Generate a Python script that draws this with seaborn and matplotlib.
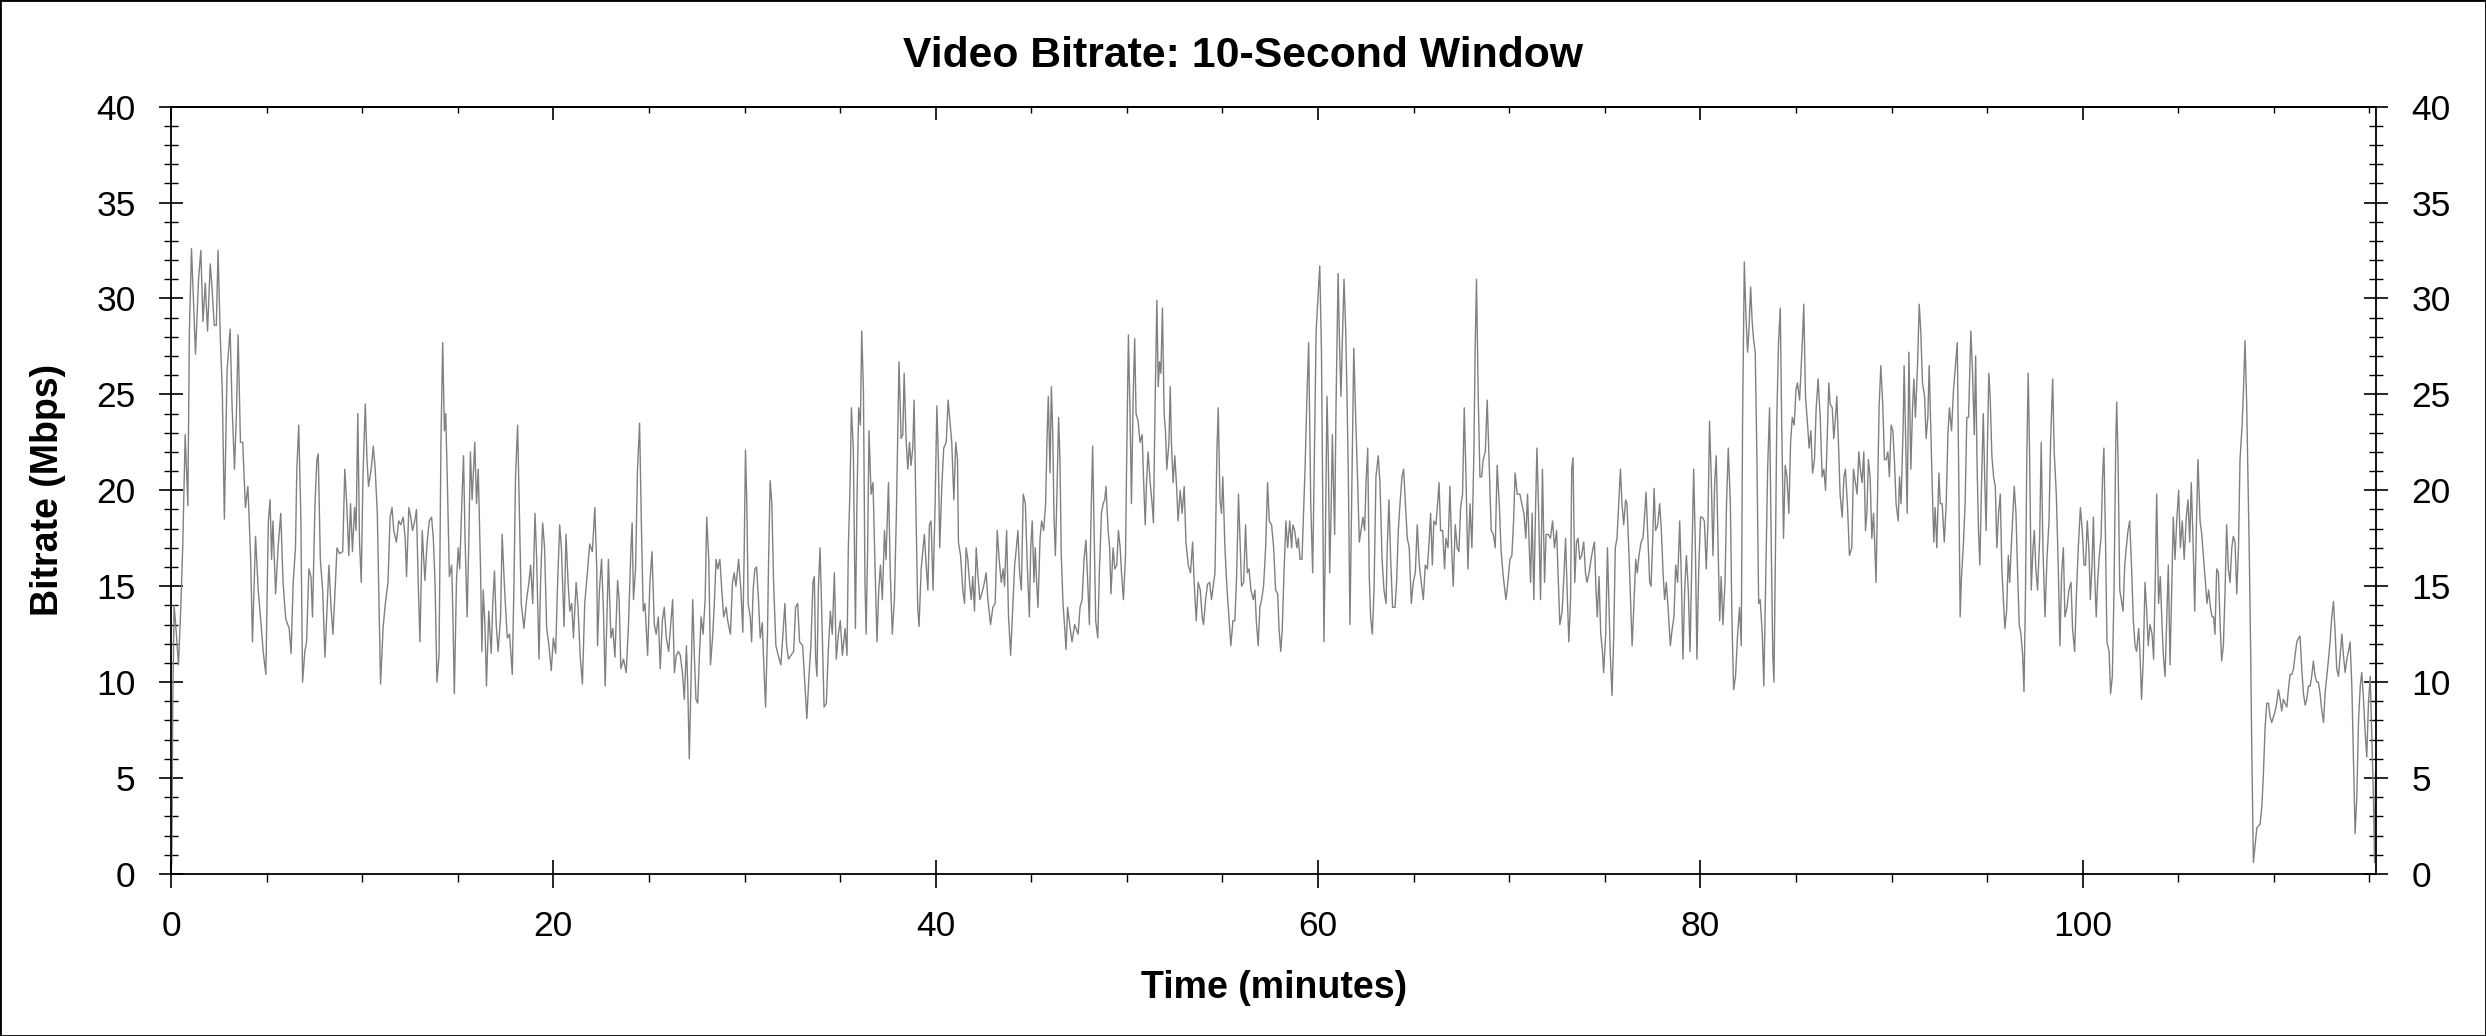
import matplotlib
matplotlib.use('Agg')
import matplotlib.pyplot as plt
import seaborn as sns
import pandas as pd
from matplotlib.ticker import MultipleLocator
from matplotlib.patches import Rectangle

# values, minutes / Mbps
time_min = [
    0.04, 0.09, 0.16, 0.25, 0.39, 0.51, 0.61, 0.74, 0.88, 0.96,
    1.07, 1.18, 1.28, 1.44, 1.56, 1.67, 1.79, 1.91, 2.05, 2.14,
    2.26, 2.37, 2.46, 2.58, 2.68, 2.79, 2.93, 3.09, 3.19, 3.32,
    3.42, 3.51, 3.63, 3.75, 3.89, 4.02, 4.16, 4.26, 4.42, 4.56,
    4.68, 4.82, 4.96, 5.09, 5.18, 5.26, 5.33, 5.47, 5.60, 5.74,
    5.86, 6.00, 6.18, 6.28, 6.39, 6.51, 6.58, 6.68, 6.79, 6.88,
    7.00, 7.09, 7.21, 7.32, 7.40, 7.53, 7.63, 7.70, 7.81, 7.93,
    8.05, 8.14, 8.26, 8.37, 8.47, 8.60, 8.68, 8.81, 8.98, 9.09,
    9.19, 9.30, 9.39, 9.49, 9.60, 9.68, 9.77, 9.86, 9.95, 10.04,
    10.16, 10.25, 10.33, 10.47, 10.58, 10.68, 10.79, 10.91, 10.96, 11.09,
    11.21, 11.35, 11.46, 11.56, 11.65, 11.79, 11.91, 12.02, 12.14, 12.25,
    12.32, 12.44, 12.54, 12.63, 12.75, 12.84, 12.93, 13.02, 13.14, 13.28,
    13.40, 13.51, 13.63, 13.72, 13.81, 13.91, 14.02, 14.12, 14.21, 14.30,
    14.37, 14.46, 14.56, 14.68,
    14.74, 14.82, 14.93, 15.02, 15.10, 15.21, 15.30, 15.38, 15.49, 15.58,
    15.66, 15.75, 15.89, 15.98, 16.07, 16.19, 16.26, 16.33, 16.42, 16.50,
    16.62, 16.75, 16.83, 16.92, 17.01, 17.11, 17.24, 17.32, 17.45, 17.59,
    17.71, 17.85, 17.94, 18.02, 18.13, 18.23, 18.32, 18.46, 18.60, 18.72,
    18.81, 18.92, 19.04, 19.12, 19.25, 19.33, 19.44, 19.54, 19.65, 19.77,
    19.89, 20.00, 20.12, 20.21, 20.33, 20.42, 20.56, 20.66, 20.77, 20.86,
    20.96, 21.05, 21.19, 21.29, 21.40, 21.52, 21.64, 21.78, 21.90, 22.04,
    22.17, 22.27, 22.31, 22.41, 22.52, 22.62, 22.71, 22.80, 22.88, 23.01,
    23.11, 23.22, 23.36, 23.44, 23.53, 23.67, 23.81, 23.93, 24.06, 24.12,
    24.19, 24.30, 24.40, 24.51, 24.61, 24.70, 24.79, 24.93, 25.05, 25.16,
    25.28, 25.38, 25.49, 25.59, 25.70, 25.80, 25.91, 26.03, 26.14, 26.24,
    26.33, 26.43, 26.54, 26.64, 26.75, 26.85, 26.96, 27.03, 27.11, 27.20,
    27.29, 27.38, 27.46, 27.55, 27.64, 27.73, 27.83, 27.94, 28.02, 28.13,
    28.22, 28.34, 28.43, 28.51, 28.60, 28.71, 28.81, 28.91, 29.04, 29.12,
    29.26,
    29.37, 29.46, 29.55, 29.69, 29.81, 29.91, 29.98, 30.05, 30.12, 30.19,
    30.30, 30.37, 30.45, 30.54, 30.63, 30.73, 30.82, 30.93, 30.99, 31.10,
    31.20, 31.26, 31.34, 31.43, 31.52, 31.64, 31.76, 31.90, 32.01, 32.11,
    32.20, 32.30, 32.43, 32.57, 32.67, 32.78, 32.88, 33.04, 33.16, 33.26,
    33.37, 33.47, 33.58, 33.65, 33.72, 33.79, 33.86, 33.95, 34.05, 34.16,
    34.28, 34.38, 34.49, 34.59, 34.70, 34.80, 34.91, 35.01, 35.12, 35.26,
    35.36, 35.43, 35.52, 35.59, 35.69, 35.80, 35.88, 35.97, 36.06, 36.13,
    36.22, 36.30, 36.36, 36.44, 36.51, 36.62, 36.72, 36.83, 36.93, 37.02,
    37.11, 37.21, 37.32, 37.40, 37.53, 37.63, 37.73, 37.84, 37.94, 38.01,
    38.08, 38.19, 38.28, 38.35, 38.45, 38.54, 38.63, 38.71, 38.80, 38.87,
    38.97, 39.06, 39.13, 39.24, 39.34, 39.41, 39.50, 39.59, 39.67, 39.76,
    39.86, 39.97, 40.06, 40.14, 40.21, 40.32, 40.42, 40.55, 40.65, 40.76,
    40.84, 40.95, 41.05, 41.14, 41.19, 41.30, 41.42, 41.51, 41.59, 41.68,
    41.77, 41.86, 41.94, 42.03, 42.12, 42.20, 42.31, 42.41, 42.55, 42.64,
    42.73, 42.87, 42.99, 43.11, 43.22, 43.32, 43.43, 43.53, 43.60, 43.71,
    43.81, 43.92,
    44.04, 44.13, 44.22, 44.30, 44.39, 44.48, 44.58, 44.69, 44.79, 44.90,
    44.97, 45.05, 45.14, 45.21, 45.28, 45.35, 45.46, 45.54, 45.65, 45.75,
    45.82, 45.89, 45.98, 46.05, 46.12, 46.19, 46.26, 46.33, 46.43, 46.50,
    46.57, 46.66, 46.75, 46.82, 46.90, 47.01, 47.13, 47.27, 47.45, 47.55,
    47.66, 47.76, 47.86, 47.97, 48.04, 48.11, 48.21, 48.28, 48.37, 48.48,
    48.56, 48.67, 48.76, 48.84, 48.91, 49.02, 49.10, 49.17, 49.28, 49.37,
    49.47, 49.56, 49.65, 49.72, 49.82, 49.93, 49.99, 50.08, 50.17, 50.24,
    50.33, 50.41, 50.48, 50.59, 50.69, 50.80, 50.87, 50.96, 51.03, 51.11,
    51.22, 51.32, 51.39, 51.48, 51.57, 51.64, 51.71, 51.78, 51.86, 51.95,
    52.02, 52.09, 52.20, 52.27, 52.33, 52.42, 52.51, 52.60, 52.68, 52.79,
    52.89, 53.00, 53.09, 53.21, 53.33, 53.44, 53.52, 53.63, 53.73, 53.84,
    53.94, 54.01, 54.12, 54.22, 54.33, 54.43, 54.54, 54.61, 54.71, 54.78,
    54.87, 54.95, 55.02, 55.13, 55.23, 55.34, 55.44, 55.55, 55.65, 55.74,
    55.84, 55.93, 56.00, 56.11, 56.21, 56.30, 56.39, 56.49, 56.61, 56.70,
    56.77, 56.87, 56.96, 57.05, 57.15, 57.26, 57.36, 57.45, 57.57, 57.68,
    57.78, 57.89, 57.96, 58.05, 58.13, 58.22, 58.32, 58.41, 58.52, 58.62,
    58.68, 58.78, 58.89, 58.97, 59.06, 59.16, 59.23, 59.32, 59.41, 59.51,
    59.62, 59.72, 59.79, 59.90, 59.98, 60.09, 60.18, 60.25, 60.31, 60.38,
    60.47, 60.54, 60.61, 60.68, 60.75, 60.82, 60.87, 60.94, 61.05, 61.13,
    61.20, 61.27, 61.36, 61.45, 61.52, 61.59, 61.67, 61.76, 61.87, 61.97,
    62.06, 62.16, 62.25, 62.35, 62.44, 62.51, 62.60, 62.68, 62.75, 62.84,
    62.93, 63.03, 63.15, 63.24, 63.35, 63.45, 63.56, 63.62, 63.71, 63.80,
    63.90, 64.03, 64.11, 64.20, 64.29, 64.39, 64.48, 64.57, 64.67, 64.77,
    64.88, 64.98, 65.09, 65.19, 65.30, 65.40, 65.51, 65.61, 65.72, 65.82,
    65.89, 65.98, 66.06, 66.17, 66.27, 66.33, 66.41, 66.52, 66.62, 66.69,
    66.80, 66.90, 66.99, 67.07, 67.18, 67.28, 67.37, 67.46, 67.56, 67.65,
    67.74, 67.84, 67.95, 68.05, 68.15, 68.22, 68.29, 68.38, 68.47, 68.56,
    68.64, 68.75, 68.85, 68.96, 69.06, 69.17, 69.27, 69.37, 69.48, 69.58,
    69.69, 69.83, 69.93, 70.04, 70.14, 70.23, 70.31, 70.42, 70.56, 70.66,
    70.77, 70.87, 70.96, 71.05, 71.12, 71.20, 71.29, 71.38, 71.45, 71.53,
    71.64, 71.74, 71.85, 71.93, 72.04, 72.16, 72.27, 72.37, 72.48, 72.55,
    72.65, 72.77, 72.86, 72.95, 73.03, 73.12, 73.21,
    73.27, 73.34, 73.43, 73.52, 73.60, 73.69, 73.79, 73.90, 73.99, 74.07,
    74.18, 74.28, 74.39, 74.46, 74.54, 74.61, 74.70, 74.79, 74.88, 74.94,
    75.05, 75.14, 75.22, 75.29, 75.38, 75.47, 75.55, 75.64, 75.73, 75.82,
    75.90, 75.99, 76.09, 76.16, 76.27, 76.36, 76.43, 76.51, 76.62, 76.70,
    76.79, 76.90, 77.00, 77.09, 77.16, 77.24, 77.35, 77.42, 77.51, 77.58,
    77.66, 77.77, 77.87, 77.96, 78.05, 78.13, 78.22, 78.31, 78.43, 78.53,
    78.62, 78.71, 78.81, 78.92, 79.00, 79.09, 79.18, 79.27, 79.37, 79.46,
    79.56, 79.65, 79.74, 79.82, 79.91, 80.01, 80.10, 80.21, 80.31, 80.40,
    80.48, 80.57, 80.66, 80.75, 80.83, 80.92, 81.01, 81.09, 81.18, 81.29,
    81.37, 81.46, 81.57, 81.65, 81.74, 81.84, 81.95, 82.05, 82.14, 82.21,
    82.30, 82.38, 82.47, 82.54, 82.63, 82.71, 82.78, 82.87, 82.96, 83.05,
    83.13, 83.24, 83.32, 83.43, 83.52, 83.62, 83.71, 83.79, 83.85, 83.93,
    84.00, 84.09, 84.18, 84.25, 84.35, 84.44, 84.53, 84.63, 84.72, 84.81,
    84.91, 85.00, 85.08, 85.19, 85.26, 85.35, 85.41, 85.50, 85.61, 85.69,
    85.78, 85.87, 85.97, 86.06, 86.16, 86.27, 86.37, 86.46, 86.55, 86.63,
    86.72, 86.79, 86.90, 86.98, 87.07, 87.14, 87.24, 87.31, 87.42, 87.51,
    87.59, 87.70, 87.80,
    87.92, 88.01, 88.11, 88.20, 88.29, 88.37, 88.46, 88.55, 88.64, 88.71,
    88.79, 88.88, 88.97, 89.06, 89.13, 89.19, 89.26, 89.35, 89.44, 89.54,
    89.63, 89.72, 89.81, 89.89, 89.98, 90.07, 90.15, 90.24, 90.35, 90.42,
    90.50, 90.61, 90.66, 90.75, 90.82, 90.91, 91.01, 91.10, 91.17, 91.25,
    91.36, 91.45, 91.53, 91.62, 91.73, 91.81, 91.90, 91.97, 92.06, 92.13,
    92.21, 92.28, 92.37, 92.48, 92.55, 92.65, 92.76, 92.86, 92.95, 93.03,
    93.14, 93.24, 93.33, 93.44, 93.52, 93.59, 93.66, 93.75, 93.85, 93.94,
    94.03, 94.15, 94.24, 94.33, 94.40, 94.47, 94.55, 94.62, 94.71, 94.80,
    94.88, 94.95, 95.02, 95.09, 95.16, 95.25, 95.34, 95.43, 95.51, 95.60,
    95.69, 95.77, 95.86, 95.93, 96.02, 96.11, 96.18, 96.26, 96.35, 96.42,
    96.51, 96.59, 96.68, 96.77, 96.86, 96.93, 97.01, 97.08, 97.15, 97.22,
    97.31, 97.40, 97.47, 97.55, 97.64, 97.75, 97.83, 97.92, 98.03, 98.13,
    98.24, 98.32, 98.43, 98.51, 98.62, 98.72, 98.81, 98.90, 98.99, 99.07,
    99.18, 99.28, 99.39, 99.47, 99.58, 99.68, 99.77, 99.88, 99.98, 100.07,
    100.15, 100.24, 100.33, 100.40, 100.49, 100.56, 100.64, 100.71, 100.78, 100.87,
    100.96, 101.04, 101.11, 101.20, 101.27, 101.38, 101.46, 101.55, 101.64, 101.73,
    101.78, 101.85, 101.94, 102.02, 102.11, 102.20, 102.28, 102.37, 102.46,
    102.56, 102.65, 102.74, 102.82, 102.93, 103.00, 103.08, 103.17, 103.26, 103.35,
    103.43, 103.52, 103.63, 103.71, 103.80, 103.87, 103.97, 104.06, 104.15, 104.22,
    104.31, 104.39, 104.48, 104.57, 104.66, 104.74, 104.83, 104.92, 105.02, 105.11,
    105.21, 105.31, 105.42, 105.51, 105.60, 105.68, 105.77, 105.86, 105.95, 106.03,
    106.14, 106.23, 106.31, 106.40, 106.50, 106.59, 106.68, 106.77, 106.85, 106.92,
    107.01, 107.10, 107.19, 107.27, 107.36, 107.45, 107.53, 107.62, 107.71, 107.80,
    107.88, 107.97, 108.06, 108.15, 108.23, 108.34, 108.41, 108.49, 108.58, 108.67,
    108.72, 108.79, 108.84, 108.93, 109.02, 109.11, 109.19, 109.28, 109.37, 109.45,
    109.54, 109.63, 109.72, 109.80, 109.89, 109.98, 110.07, 110.15, 110.24, 110.33,
    110.41, 110.50, 110.59, 110.68, 110.76, 110.85, 110.94, 111.03, 111.11, 111.20,
    111.29, 111.37, 111.46, 111.55, 111.64, 111.72, 111.81, 111.90, 111.98, 112.07,
    112.16, 112.25, 112.33, 112.42, 112.51, 112.60, 112.68, 112.77, 112.86, 112.94,
    113.03, 113.12, 113.21, 113.29, 113.38, 113.47, 113.56, 113.64, 113.73, 113.82,
    113.90, 113.99, 114.08, 114.17, 114.25, 114.34, 114.43, 114.52, 114.60, 114.69,
    114.78, 114.86, 114.95, 115.04, 115.13, 115.21, 115.27, 115.32,
]

bitrate_mbps = [
    0.5, 8.9, 14.0, 12.9, 10.9, 13.9, 17.0, 22.9, 19.2, 28.3,
    32.6, 29.7, 27.1, 31.0, 32.5, 28.8, 30.8, 28.3, 31.8, 30.6,
    28.6, 28.6, 32.5, 27.9, 25.2, 18.5, 26.2, 28.4, 24.5, 21.1,
    24.0, 28.1, 22.5, 22.5, 19.1, 20.2, 16.6, 12.1, 17.6, 14.8,
    13.4, 11.6, 10.4, 18.4, 19.5, 16.4, 18.4, 14.6, 17.0, 18.8,
    15.2, 13.3, 12.8, 11.5, 15.2, 17.0, 21.1, 23.4, 18.6, 10.0,
    11.6, 12.1, 15.9, 15.5, 13.4, 19.3, 21.6, 21.9, 16.4, 14.8,
    11.3, 13.4, 16.1, 13.9, 12.5, 15.2, 17.0, 16.7, 16.8, 21.1,
    19.3, 16.6, 19.3, 16.8, 19.1, 17.9, 24.0, 17.3, 15.2, 20.7,
    24.5, 21.6, 20.2, 21.1, 22.3, 21.1, 18.8, 12.5, 9.9, 12.8,
    14.1, 15.2, 18.6, 19.1, 17.9, 17.3, 18.4, 18.2, 18.6, 17.5,
    15.5, 19.1, 18.6, 17.9, 18.4, 19.0, 15.2, 12.1, 17.9, 15.3,
    17.3, 18.4, 18.6, 17.5, 15.2, 10.0, 11.4, 22.5, 27.7, 23.1,
    24.0, 20.2, 15.5, 16.1,
    13.7, 9.4, 15.2, 17.0, 15.9, 19.3, 21.8, 17.5, 13.4, 17.5,
    22.0, 19.5, 22.5, 19.3, 21.1, 15.9, 11.6, 14.8, 13.0, 9.8,
    13.7, 11.5, 14.1, 15.8, 13.0, 11.6, 13.4, 17.7, 14.8, 12.3,
    12.5, 10.4, 15.2, 20.7, 23.4, 18.4, 14.1, 12.8, 14.3, 15.2,
    16.1, 14.1, 18.8, 16.6, 11.2, 15.2, 18.3, 17.0, 12.8, 11.9,
    10.6, 12.3, 11.5, 14.8, 18.2, 17.0, 12.9, 17.7, 15.2, 13.7,
    14.1, 12.3, 15.2, 13.9, 11.4, 9.9, 14.1, 15.7, 17.2, 16.8,
    19.1, 15.9, 11.9, 14.8, 16.4, 13.7, 9.8, 13.4, 16.4, 12.3,
    12.8, 11.3, 15.3, 14.3, 10.7, 11.2, 10.5, 13.0, 17.0, 18.3,
    14.3, 15.9, 21.1, 23.5, 17.9, 13.7, 14.1, 11.4, 15.2, 16.8,
    13.0, 12.5, 13.4, 10.7, 13.2, 13.9, 12.3, 11.6, 13.0, 14.3,
    10.5, 11.4, 11.6, 11.4, 10.5, 9.1, 11.9, 9.8, 6.0, 10.0,
    14.3, 11.2, 9.1, 8.9, 11.4, 13.4, 12.5, 14.3, 18.6, 16.4,
    10.9, 12.5, 14.3, 16.4, 15.9, 16.4, 14.8, 13.4, 13.9, 13.2,
    12.5,
    15.2, 15.7, 15.0, 16.4, 14.8, 12.6, 16.6, 22.1, 19.3, 14.1,
    13.4, 12.1, 14.8, 15.9, 16.0, 14.3, 12.3, 13.1, 11.4, 8.7,
    12.5, 16.4, 20.5, 19.3, 15.2, 11.9, 11.4, 10.9, 12.5, 14.1,
    11.9, 11.2, 11.4, 11.6, 13.9, 14.1, 12.1, 11.9, 9.8, 8.1,
    10.3, 11.9, 15.2, 15.5, 11.2, 10.3, 14.8, 17.0, 13.2, 8.7,
    8.9, 11.6, 13.7, 12.5, 15.7, 11.2, 12.5, 13.2, 11.4, 12.8,
    11.4, 17.0, 20.2, 24.3, 22.2, 12.8, 19.3, 24.3, 23.4, 28.3,
    25.2, 15.2, 12.5, 17.0, 23.1, 19.8, 20.4, 15.9, 12.1, 14.8,
    16.1, 14.3, 17.9, 16.4, 20.4, 15.5, 12.5, 14.3, 18.6, 22.5,
    26.7, 22.7, 22.9, 26.1, 22.7, 21.1, 22.5, 21.3, 22.2, 24.7,
    18.8, 13.9, 12.9, 15.9, 17.0, 17.7, 16.1, 14.8, 18.2, 18.4,
    14.8, 19.3, 24.4, 21.6, 17.0, 20.2, 22.2, 22.5, 24.7, 23.4,
    22.5, 19.5, 22.5, 21.6, 17.3, 16.6, 14.8, 14.1, 17.0, 16.4,
    15.2, 14.3, 15.5, 13.7, 17.0, 15.7, 14.3, 14.6, 15.2, 15.7,
    14.3, 13.0, 13.9, 14.1, 17.9, 16.4, 15.2, 15.9, 15.0, 17.9,
    13.4, 11.4,
    14.1, 16.1, 17.0, 17.9, 15.7, 14.8, 19.8, 19.3, 16.1, 13.4,
    17.0, 18.4, 15.2, 17.0, 15.2, 13.9, 17.5, 18.4, 17.9, 19.3,
    22.5, 24.9, 20.9, 25.4, 23.1, 18.6, 16.6, 19.3, 23.8, 21.6,
    16.6, 14.1, 12.8, 11.7, 13.9, 13.0, 12.1, 13.0, 12.5, 13.9,
    14.3, 16.4, 17.4, 14.8, 13.0, 17.9, 22.3, 18.2, 13.2, 12.3,
    15.7, 18.8, 19.3, 19.5, 20.2, 17.9, 17.0, 14.6, 17.0, 15.9,
    16.1, 17.9, 17.0, 15.7, 14.3, 16.6, 21.6, 28.1, 23.8, 19.3,
    24.9, 27.9, 24.0, 23.6, 22.5, 22.9, 20.7, 18.2, 20.4, 22.0,
    20.4, 19.3, 18.3, 24.7, 29.9, 25.4, 26.7, 26.1, 29.5, 24.0,
    23.1, 21.1, 22.5, 25.4, 22.5, 20.4, 21.8, 20.2, 18.4, 20.0,
    18.8, 20.2, 17.3, 16.1, 15.7, 17.3, 15.2, 13.2, 15.2, 14.8,
    13.4, 13.0, 14.3, 15.1, 15.2, 14.3, 15.2, 15.7, 22.0, 24.3,
    19.5, 18.8, 20.7, 17.0, 15.0, 13.4, 11.9, 13.2, 13.2, 15.5,
    19.8, 17.0, 15.0, 15.2, 18.2, 15.7, 15.9, 14.8, 14.3, 14.8,
    13.2, 11.9, 13.9, 14.3, 15.0, 17.0, 20.4, 18.4, 18.2, 17.0,
    14.8, 14.6, 12.8, 11.6, 12.8, 15.7, 18.4, 17.0, 18.4, 17.0,
    18.2, 17.9, 17.0, 17.5, 16.4, 16.4, 18.4, 21.1, 24.5, 27.7,
    19.3, 15.7, 20.4, 28.3, 29.7, 31.7, 27.2, 19.3, 12.1, 17.0,
    24.9, 21.6, 15.7, 18.8, 22.9, 19.8, 17.7, 24.3, 31.3, 27.4,
    24.9, 27.7, 31.0, 28.3, 24.7, 20.4, 13.0, 19.3, 27.4, 23.8,
    20.9, 17.3, 17.9, 18.6, 17.9, 20.4, 22.2, 15.5, 13.4, 12.5,
    14.8, 20.7, 21.8, 20.4, 16.4, 14.8, 14.1, 17.0, 19.5, 16.4,
    13.9, 13.9, 15.2, 17.9, 19.3, 20.7, 21.1, 19.3, 17.5, 17.0,
    14.1, 15.2, 15.7, 18.2, 16.1, 15.2, 14.3, 16.1, 15.9, 17.5,
    18.8, 16.1, 18.4, 18.2, 19.5, 20.4, 17.9, 17.9, 15.9, 17.5,
    17.0, 20.2, 17.0, 15.0, 18.2, 17.0, 16.8, 19.1, 19.8, 24.3,
    20.7, 15.9, 19.3, 17.0, 21.8, 27.4, 31.0, 24.9, 20.7, 20.7,
    21.6, 22.0, 24.7, 21.1, 17.9, 17.7, 17.0, 21.3, 19.3, 16.8,
    15.5, 14.3, 15.2, 16.4, 16.6, 18.4, 20.9, 19.8, 19.8, 19.3,
    18.8, 17.5, 19.8, 17.0, 15.2, 18.8, 14.3, 19.1, 22.2, 19.3,
    14.3, 21.1, 15.2, 17.7, 17.7, 17.5, 18.4, 17.0, 17.9, 15.9,
    13.0, 13.7, 15.5, 17.5, 14.8, 12.1, 14.3,
    21.1, 21.7, 15.2, 17.3, 17.5, 16.4, 16.6, 17.3, 15.7, 15.2,
    15.7, 16.4, 17.0, 17.3, 14.8, 13.4, 15.5, 12.5, 11.6, 10.5,
    12.5, 17.0, 13.9, 11.4, 9.3, 12.5, 17.0, 17.5, 19.3, 21.1,
    19.3, 18.2, 19.5, 19.3, 16.6, 13.9, 11.9, 13.7, 16.4, 15.7,
    16.6, 17.3, 17.5, 18.8, 19.9, 17.9, 15.2, 15.0, 17.5, 20.1,
    17.9, 18.2, 19.3, 17.9, 15.7, 14.3, 15.2, 13.9, 11.9, 12.8,
    13.4, 16.1, 15.2, 18.4, 15.7, 11.2, 14.8, 16.6, 14.8, 11.6,
    16.6, 21.1, 17.0, 11.2, 15.7, 18.6, 18.6, 18.4, 15.9, 18.4,
    23.6, 20.7, 16.6, 20.4, 21.8, 17.5, 13.2, 15.5, 13.0, 15.2,
    19.3, 22.2, 19.3, 13.4, 9.6, 10.3, 12.5, 13.9, 11.9, 23.8,
    31.9, 29.2, 27.2, 28.3, 30.6, 28.8, 27.9, 27.2, 21.6, 14.1,
    14.3, 12.5, 9.8, 15.9, 21.1, 24.3, 17.0, 11.4, 10.0, 17.0,
    23.8, 27.7, 29.5, 23.8, 17.5, 21.3, 20.7, 18.8, 22.5, 23.8,
    23.4, 25.2, 25.6, 24.7, 26.1, 28.1, 29.7, 24.9, 23.4, 22.2,
    23.1, 20.9, 21.6, 24.3, 25.8, 23.8, 20.7, 21.1, 20.0, 22.5,
    25.6, 24.5, 24.3, 22.7, 23.8, 24.9, 22.0, 19.8, 18.6, 20.7,
    21.1, 19.1, 16.6,
    17.0, 21.1, 20.4, 19.8, 22.0, 21.1, 20.4, 22.0, 17.9, 18.8,
    21.6, 20.7, 17.5, 18.8, 17.0, 15.2, 19.3, 24.3, 26.5, 24.5,
    21.6, 21.6, 22.0, 20.7, 23.4, 23.1, 21.6, 19.3, 18.4, 20.7,
    19.3, 23.4, 26.5, 22.2, 18.8, 27.2, 21.1, 24.3, 25.8, 23.8,
    26.5, 29.7, 28.3, 25.6, 24.9, 22.7, 23.8, 26.5, 22.9, 20.2,
    17.3, 19.1, 17.0, 20.9, 19.3, 19.3, 17.3, 19.3, 22.9, 24.3,
    23.1, 25.2, 26.3, 27.7, 20.4, 13.4, 15.5, 17.0, 19.3, 23.8,
    23.8, 28.3, 26.1, 22.9, 27.0, 21.6, 17.9, 16.1, 20.4, 24.0,
    20.4, 17.9, 22.5, 26.1, 24.9, 21.8, 20.7, 20.2, 17.0, 18.8,
    19.8, 15.9, 14.1, 12.8, 13.7, 16.6, 15.2, 17.0, 18.8, 20.2,
    18.8, 15.9, 13.0, 12.5, 11.4, 9.5, 14.8, 22.0, 26.1, 22.0,
    14.8, 17.0, 17.9, 15.9, 14.8, 17.5, 22.5, 17.0, 13.4, 16.4,
    18.4, 22.5, 25.8, 22.0, 19.8, 16.1, 11.9, 15.7, 17.0, 13.4,
    13.9, 14.8, 15.2, 12.8, 11.6, 14.8, 17.0, 19.1, 17.9, 16.1,
    16.1, 18.4, 16.8, 14.3, 16.1, 18.6, 15.2, 13.4, 15.2, 16.6,
    17.5, 20.7, 22.2, 17.0, 12.1, 11.6, 9.4, 10.3, 14.8, 22.5,
    24.6, 21.6, 14.8, 14.3, 13.7, 16.1, 17.0, 17.9, 18.4,
    15.9, 13.2, 11.9, 11.6, 12.8, 11.4, 9.1, 11.2, 15.2, 13.7,
    11.9, 13.0, 12.5, 11.2, 15.5, 19.8, 14.1, 15.5, 13.0, 11.4,
    10.3, 13.0, 16.1, 10.9, 15.0, 18.6, 16.4, 18.4, 20.0, 17.0,
    18.4, 16.4, 18.6, 19.5, 17.3, 20.4, 17.5, 13.7, 18.2, 21.6,
    18.4, 17.7, 16.6, 15.5, 14.1, 14.8, 13.9, 13.4, 13.4, 12.5,
    15.9, 15.7, 13.0, 11.1, 11.9, 14.8, 18.2, 15.9, 15.2, 17.0,
    17.6, 17.3, 14.6, 17.0, 21.6, 23.4, 25.2, 27.8, 24.5, 19.3,
    16.4, 11.4, 6.9, 0.6, 1.5, 2.4, 2.5, 2.6, 3.5, 5.1,
    7.6, 8.9, 8.9, 8.2, 7.9, 8.2, 8.5, 8.9, 9.6, 9.1,
    8.5, 9.1, 8.9, 8.7, 9.6, 10.4, 10.4, 10.7, 11.4, 12.1,
    12.3, 12.4, 10.7, 9.4, 8.8, 9.1, 9.8, 9.8, 10.3, 11.1,
    10.3, 10.0, 10.0, 9.4, 8.5, 7.9, 9.4, 10.3, 11.2, 12.1,
    13.4, 14.2, 12.5, 10.7, 10.3, 11.4, 12.5, 11.4, 10.5, 11.2,
    11.6, 12.1, 9.8, 5.8, 2.1, 4.0, 8.0, 9.8, 10.5, 9.1,
    7.3, 6.1, 8.9, 10.3, 6.9, 4.0, 0.6, 5.3,
]

x_ticks_major = 20
x_ticks_minor = 5
y_ticks_major = 5
y_ticks_minor = 1

sns.set_theme(style='ticks', rc={'axes.edgecolor': 'black', 'xtick.color': 'black',
                                 'ytick.color': 'black', 'text.color': 'black',
                                 'axes.labelcolor': 'black'})
plt.rcParams['font.family'] = ['Liberation Sans', 'DejaVu Sans']

df = pd.DataFrame({'Time (minutes)': time_min, 'Bitrate (Mbps)': bitrate_mbps})

fig = plt.figure(figsize=(24.86, 10.36), dpi=100)
ax = fig.add_axes([0.0688, 0.1564, 0.8870, 0.7407])

sns.lineplot(data=df, x='Time (minutes)', y='Bitrate (Mbps)', ax=ax,
             color='#808080', linewidth=1.0, estimator=None, sort=False)

ax.set_xlim(0, 115.35)
ax.set_ylim(0, 40)
ax.xaxis.set_major_locator(MultipleLocator(x_ticks_major))
ax.xaxis.set_minor_locator(MultipleLocator(x_ticks_minor))
ax.yaxis.set_major_locator(MultipleLocator(y_ticks_major))
ax.yaxis.set_minor_locator(MultipleLocator(y_ticks_minor))

for s in ax.spines.values():
    s.set_linewidth(1.3)
    s.set_color('black')

ax.tick_params(axis='y', which='major', direction='inout', length=17, width=1.2,
               left=True, right=True, labelleft=True, labelright=True,
               labelsize=25.5, pad=17)
ax.tick_params(axis='y', which='minor', direction='inout', length=10, width=1.0,
               left=True, right=True)
ax.tick_params(axis='x', which='major', direction='inout', length=20, width=1.2,
               bottom=True, top=False, labelsize=25.5, pad=16)
ax.tick_params(axis='x', which='minor', direction='out', length=6, width=1.0,
               bottom=True, top=False)

# top axis only has inward ticks, no labels
top = ax.secondary_xaxis('top')
top.xaxis.set_major_locator(MultipleLocator(x_ticks_major))
top.xaxis.set_minor_locator(MultipleLocator(x_ticks_minor))
top.tick_params(axis='x', which='major', direction='in', length=9, width=1.2, labeltop=False)
top.tick_params(axis='x', which='minor', direction='in', length=4.5, width=1.0)
top.spines['top'].set_linewidth(1.3)

ax.set_xlabel('Time (minutes)', fontsize=27, fontweight='bold')
ax.xaxis.label.set_va('baseline')
ax.xaxis.set_label_coords(0.5, -0.162)
ax.set_ylabel('Bitrate (Mbps)', fontsize=27, fontweight='bold')
ax.yaxis.label.set_va('center')
ax.yaxis.set_label_coords(-0.056, 0.5)

fig.text(0.5, 0.9356, 'Video Bitrate: 10-Second Window', ha='center', va='baseline',
         fontsize=30.8, fontweight='bold')

fig.add_artist(Rectangle((0, 0), 1, 1, transform=fig.transFigure, fill=False,
                         edgecolor='black', linewidth=2))

fig.savefig('out.png', dpi=100)
plt.close(fig)
